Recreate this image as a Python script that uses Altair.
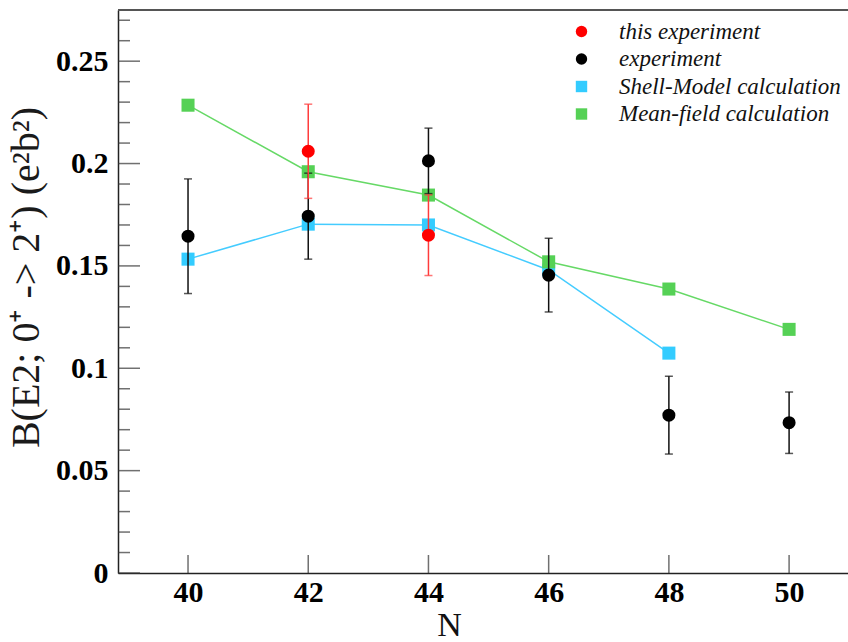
import altair as alt
import pandas as pd

# ---- data ----
N_exp = [40, 42, 44, 46, 48, 50]
B_exp = [0.1645, 0.1743, 0.2013, 0.1455, 0.0771, 0.0734]
err_exp = [0.028, 0.021, 0.016, 0.018, 0.019, 0.015]

N_this = [42, 44]
B_this = [0.206, 0.165]
err_this = [0.023, 0.0197]

N_sm = [40, 42, 44, 46, 48]
B_sm = [0.1533, 0.1704, 0.1700, 0.1480, 0.1074]

N_mf = [40, 42, 44, 46, 48, 50]
B_mf = [0.2285, 0.1960, 0.1846, 0.1520, 0.1387, 0.1190]

series_names = ["this experiment", "experiment", "Shell-Model calculation", "Mean-field calculation"]
series_colors = ["#ff0000", "#000000", "#33ccff", "#55d155"]
series_shapes = ["circle", "circle", "square", "square"]

x_ticks = [40, 42, 44, 46, 48, 50]
y_major = [0, 0.05, 0.1, 0.15, 0.2, 0.25]
y_minor = [0.01, 0.02, 0.03, 0.04, 0.06, 0.07, 0.08, 0.09, 0.11, 0.12, 0.13, 0.14,
           0.16, 0.17, 0.18, 0.19, 0.21, 0.22, 0.23, 0.24, 0.26, 0.27]

# ---- tables ----
exp_df = pd.DataFrame({"N": N_exp, "B": B_exp,
                       "lo": [b - e for b, e in zip(B_exp, err_exp)],
                       "hi": [b + e for b, e in zip(B_exp, err_exp)],
                       "series": "experiment"})
this_df = pd.DataFrame({"N": N_this, "B": B_this,
                        "lo": [b - e for b, e in zip(B_this, err_this)],
                        "hi": [b + e for b, e in zip(B_this, err_this)],
                        "series": "this experiment"})
sm_df = pd.DataFrame({"N": N_sm, "B": B_sm, "series": "Shell-Model calculation"})
mf_df = pd.DataFrame({"N": N_mf, "B": B_mf, "series": "Mean-field calculation"})
calc_df = pd.concat([sm_df, mf_df])
pts_df = pd.concat([this_df[["N", "B", "series"]], exp_df[["N", "B", "series"]]])

W, H = 730, 563
FONT = "Liberation Serif"

xscale = alt.Scale(domain=[38.835, 50.98], nice=False, zero=False)
yscale = alt.Scale(domain=[0, 0.275], nice=False, zero=False)

x_axis = alt.Axis(values=x_ticks, ticks=False, grid=False, domainColor="#222", domainWidth=1.5,
                  labelFont=FONT, labelFontWeight="bold", labelFontSize=30, labelColor="#000",
                  labelPadding=4, title="N", titleFont=FONT, titleFontWeight="normal",
                  titleFontSize=34, titleColor="#111", titleX=331, titleY=62,
                  titleBaseline="alphabetic", titleAnchor="start", titleAlign="center")
y_axis = alt.Axis(values=y_major, format="~g", ticks=False, grid=False, domainColor="#222",
                  domainWidth=1.5, labelFont=FONT, labelFontWeight="bold", labelFontSize=30,
                  labelColor="#000", labelPadding=10,
                  title="B(E2; 0⁺ -> 2⁺) (e²b²)", titleFont=FONT, titleFontWeight="normal",
                  titleFontSize=40, titleColor="#1a1a1a", titlePadding=9, titleY=267)

color_scale = alt.Scale(domain=series_names, range=series_colors)
shape_scale = alt.Scale(domain=series_names, range=series_shapes)
legend = alt.Legend(title=None, orient="none", legendX=452, legendY=10, padding=0,
                    labelFont=FONT, labelFontStyle="italic", labelFontSize=23, labelColor="#111",
                    symbolSize=130, symbolStrokeWidth=0, rowPadding=3.5, labelOffset=26,
                    labelLimit=400)


def X(field):
    return alt.X(field, scale=xscale, axis=x_axis)


def Y(field):
    return alt.Y(field, scale=yscale, axis=y_axis)


# axis frame ticks (inward)
ymaj = alt.Chart(pd.DataFrame({"v": y_major})).mark_tick(
    orient="horizontal", size=22, thickness=1.5, color="#333").encode(
    y=Y("v:Q"), x=alt.value(11))
ymin = alt.Chart(pd.DataFrame({"v": y_minor})).mark_tick(
    orient="horizontal", size=12, thickness=1.5, color="#333").encode(
    y=Y("v:Q"), x=alt.value(6))
xmaj = alt.Chart(pd.DataFrame({"v": x_ticks})).mark_tick(
    orient="vertical", size=18, thickness=1.5, color="#333").encode(
    x=X("v:Q"), y=alt.value(H - 9))
top_border = alt.Chart(pd.DataFrame({"v": [0]})).mark_rule(color="#555", strokeWidth=2).encode(
    x=alt.value(0), x2=alt.value(W), y=alt.value(0))

sm_line = alt.Chart(sm_df).mark_line(color="#44ccff", strokeWidth=1.5).encode(
    x=X("N:Q"), y=Y("B:Q"))
mf_line = alt.Chart(mf_df).mark_line(color="#66d966", strokeWidth=1.5).encode(
    x=X("N:Q"), y=Y("B:Q"))

squares = alt.Chart(calc_df).mark_point(filled=True, opacity=1, size=170, strokeWidth=0).encode(
    x=X("N:Q"), y=Y("B:Q"),
    color=alt.Color("series:N", scale=color_scale, legend=legend),
    shape=alt.Shape("series:N", scale=shape_scale, legend=legend))


def errbars(df, col):
    rule = alt.Chart(df).mark_rule(color=col, strokeWidth=1.5).encode(
        x=X("N:Q"), y=Y("lo:Q"), y2="hi:Q")
    cap_lo = alt.Chart(df).mark_tick(orient="horizontal", size=8, thickness=1.5, color=col).encode(
        x=X("N:Q"), y=Y("lo:Q"))
    cap_hi = alt.Chart(df).mark_tick(orient="horizontal", size=8, thickness=1.5, color=col).encode(
        x=X("N:Q"), y=Y("hi:Q"))
    return rule + cap_lo + cap_hi


circles = alt.Chart(pts_df).mark_point(filled=True, opacity=1, size=170, strokeWidth=0).encode(
    x=X("N:Q"), y=Y("B:Q"),
    color=alt.Color("series:N", scale=color_scale, legend=legend),
    shape=alt.Shape("series:N", scale=shape_scale, legend=legend))

chart = alt.layer(
    top_border, ymaj, ymin, xmaj, sm_line, mf_line, squares,
    errbars(exp_df, "#111111"), errbars(this_df, "#ff3b3b"), circles
).properties(
    width=W, height=H,
    autosize=alt.AutoSizeParams(type="none"),
    padding={"left": 118, "top": 10, "right": 0, "bottom": 69},
).configure_view(stroke=None).configure(background="white")

chart.save("out.html", embed_options={"renderer": "svg", "actions": False})
